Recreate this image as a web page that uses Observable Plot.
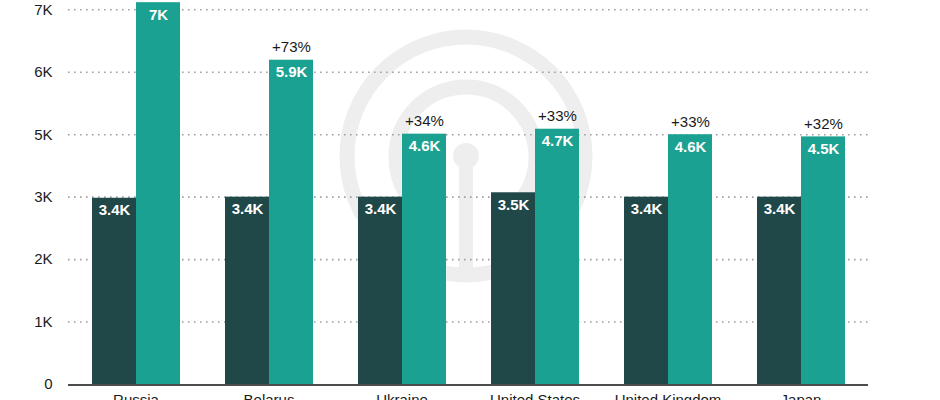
<!DOCTYPE html>
<html>
<head>
<meta charset="utf-8">
<script src="https://cdn.jsdelivr.net/npm/d3@7"></script>
<script src="https://cdn.jsdelivr.net/npm/@observablehq/plot@0.6"></script>
<style>
  html, body { margin: 0; padding: 0; background: #fff; }
  #wrap { position: relative; width: 940px; height: 400px; overflow: hidden; }
  #wm { position: absolute; left: 0; top: 0; z-index: 0; }
  #back { position: absolute; left: 0; top: 0; z-index: 1; }
  #front { position: absolute; left: 0; top: 0; z-index: 2; }
</style>
</head>
<body>
<div id="wrap">
  <svg id="wm" width="940" height="400">
    <g fill="none" stroke="#eeeeee" stroke-width="15">
      <circle cx="466" cy="156" r="119"></circle>
      <path d="M 416 206 A 70 70 0 1 1 516 206"></path>
    </g>
    <g fill="#eeeeee">
      <circle cx="466" cy="156" r="13"></circle>
      <rect x="459" y="160" width="14" height="115"></rect>
    </g>
  </svg>
  <div id="back"></div>
  <div id="front"></div>
</div>
<script>
const countries = ["Russia", "Belarus", "Ukraine", "United States", "United Kingdom", "Japan"];
const seriesNames = ["Before", "After"];
const beforeValues = [3400, 3420, 3420, 3500, 3420, 3420];
const afterValues = [6970, 5920, 4570, 4660, 4560, 4520];
const yTicks = [0, 1140, 2280, 3420, 4560, 5700, 6840];
const yTickLabels = ["0", "1K", "2K", "3K", "5K", "6K", "7K"];
const seriesColors = ["#214849", "#1ba191"];

const rows = [];
countries.forEach((c, i) => {
  rows.push({country: c, series: seriesNames[0], value: beforeValues[i]});
  rows.push({country: c, series: seriesNames[1], value: afterValues[i]});
});
const afterRows = countries.map((c, i) => ({
  country: c, series: seriesNames[1], value: afterValues[i],
  pct: "+" + Math.round((afterValues[i] / beforeValues[i] - 1) * 100) + "%"
}));
const fmtK = v => (v / 1000).toFixed(1).replace(/\.0$/, "") + "K";

const common = {
  width: 940,
  height: 400,
  marginTop: 0,
  marginBottom: 16,
  marginLeft: 68,
  marginRight: 72,
  style: {fontFamily: "'Liberation Sans', Arial, Helvetica, sans-serif", fontSize: "15px", color: "#1a1a1a", background: "transparent", overflow: "hidden"}
};
const yDomain = [0, 7010];

// Background: continuous grid, baseline and y axis
const back = Plot.plot({
  ...common,
  y: {domain: yDomain, label: null},
  marks: [
    Plot.ruleY(yTicks.slice(1), {stroke: "#a0a0a0", strokeWidth: 1.6, strokeDasharray: "1.6 4.4"}),
    Plot.axisY({ticks: yTicks, tickFormat: d => yTickLabels[yTicks.indexOf(d)], tickSize: 0, tickPadding: 16, label: null, fontSize: 15, fill: "#1a1a1a"}),
    Plot.ruleY([0], {stroke: "#111", strokeWidth: 1.5, dy: 0.5})
  ]
});
document.getElementById("back").appendChild(back);

// Foreground: grouped bars and labels
const front = Plot.plot({
  ...common,
  fx: {domain: countries, paddingInner: 1/3, paddingOuter: 1/6, label: null},
  x: {domain: seriesNames, padding: 0, axis: null},
  y: {domain: yDomain, axis: null},
  color: {domain: seriesNames, range: seriesColors},
  marks: [
    Plot.axisFx({anchor: "bottom", tickSize: 0, tickPadding: 10, label: null, fontSize: 15, fill: "#1a1a1a"}),
    Plot.barY(rows, {fx: "country", x: "series", y: "value", fill: "series"}),
    Plot.text(rows, {fx: "country", x: "series", y: "value", text: d => fmtK(d.value), fill: "white", dy: 12, lineAnchor: "middle", fontWeight: "bold", fontSize: 15}),
    Plot.text(afterRows, {fx: "country", x: "series", y: "value", text: "pct", fill: "#1a1a1a", dy: -13, lineAnchor: "middle", fontSize: 15})
  ]
});
document.getElementById("front").appendChild(front);
</script>
</body>
</html>
